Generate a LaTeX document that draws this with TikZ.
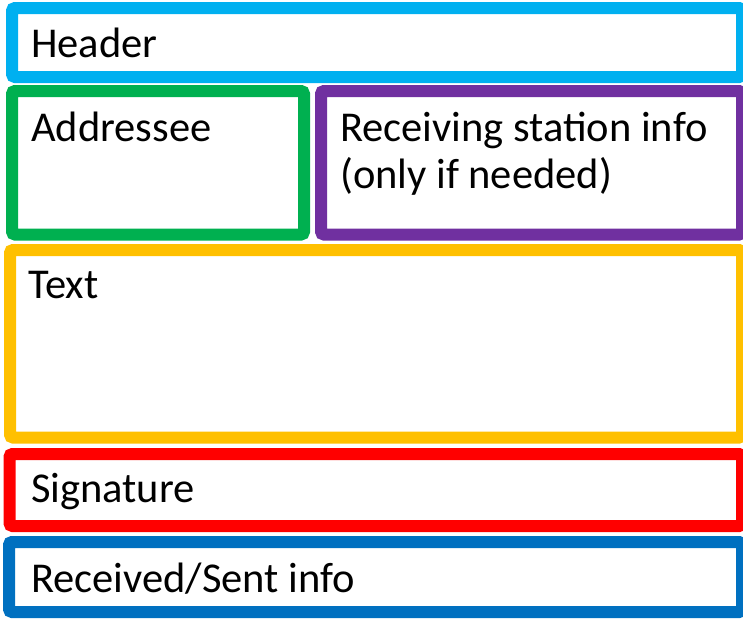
\documentclass[tikz,border=0pt]{standalone}
\usepackage{fontspec}
\setmainfont{Carlito}
\definecolor{hdrblue}{HTML}{00B0F0}
\definecolor{addrgreen}{HTML}{00B050}
\definecolor{rcvpurple}{HTML}{7030A0}
\definecolor{txtyellow}{HTML}{FFC000}
\definecolor{sigred}{HTML}{FF0000}
\definecolor{rsblue}{HTML}{0070C0}
\begin{document}
\begin{tikzpicture}[x=1pt,y=-1pt,
  field/.style={draw=#1, line width=12pt, rounded corners=3pt},
  lbl/.style={anchor=base west, inner sep=0pt, font=\fontsize{42.5}{46.5}\selectfont, align=left}]
\useasboundingbox (0,0) rectangle (743,619);
\clip (0,0) rectangle (743,619);
\draw[field=hdrblue]    (12,8) rectangle (742,77);
\draw[field=addrgreen]  (12,91) rectangle (304,234.5);
\draw[field=rcvpurple]  (321,91) rectangle (742,234.5);
\draw[field=txtyellow]  (10,250) rectangle (742,437.5);
\draw[field=sigred]     (9.5,454) rectangle (742,526);
\draw[field=rsblue]     (9,542) rectangle (742,612);
\node[lbl] (header) at (31,57) {Header};
\node[lbl] (addressee) at (31,141.5) {Addressee};
\node[lbl] (receiving) at (340,188) {Receiving station info\\(only if needed)};
\node[lbl] (text) at (28,298) {Text};
\node[lbl] (signature) at (31,502) {Signature};
\node[lbl] (rsinfo) at (31,592) {Received/Sent info};
\end{tikzpicture}
\end{document}
